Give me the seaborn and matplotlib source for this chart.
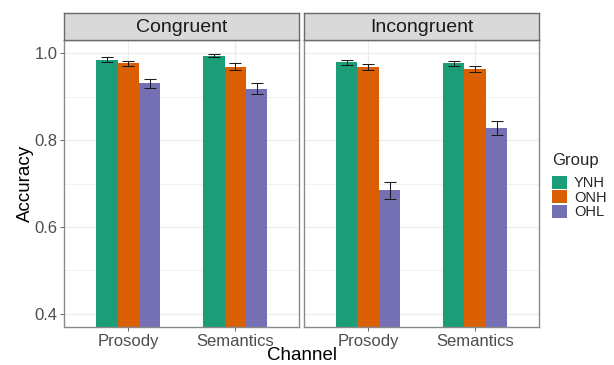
import matplotlib
matplotlib.use("Agg")
import matplotlib.pyplot as plt
from matplotlib.patches import Patch
import seaborn as sns
import pandas as pd

# Mean accuracy and standard error by condition, channel and group
conditions = ["Congruent", "Incongruent"]
channels = ["Prosody", "Semantics"]
groups = ["YNH", "ONH", "OHL"]

congruent_mean = {"YNH": [0.985, 0.994], "ONH": [0.976, 0.969], "OHL": [0.930, 0.918]}
congruent_se = {"YNH": [0.005, 0.003], "ONH": [0.006, 0.007], "OHL": [0.011, 0.012]}
incongruent_mean = {"YNH": [0.979, 0.976], "ONH": [0.967, 0.963], "OHL": [0.684, 0.828]}
incongruent_se = {"YNH": [0.006, 0.006], "ONH": [0.007, 0.007], "OHL": [0.019, 0.016]}

y_ticks = [0.4, 0.6, 0.8, 1.0]
y_minor = [0.5, 0.7, 0.9]

palette = {"YNH": "#1B9E77", "ONH": "#D95F02", "OHL": "#7570B3"}

sns.set_theme(style="white")
plt.rcParams["font.family"] = ["Liberation Sans", "DejaVu Sans"]

means = {"Congruent": congruent_mean, "Incongruent": incongruent_mean}
ses = {"Congruent": congruent_se, "Incongruent": incongruent_se}

fig = plt.figure(figsize=(6.14, 3.65), dpi=100)
W, H = 614, 365

panel_x = [(64.3, 299.3), (304.0, 539.3)]
panel_top, panel_bottom = 40.0, 327.0
strip_top = 13.0

border_col = "#8a8a8a"
grid_col = "#EBEBEB"
tick_col = "#4D4D4D"

for i, cond in enumerate(conditions):
    x0, x1 = panel_x[i]
    ax = fig.add_axes([x0 / W, 1 - panel_bottom / H, (x1 - x0) / W, (panel_bottom - panel_top) / H])
    rows = []
    for g in groups:
        for c, m, s in zip(channels, means[cond][g], ses[cond][g]):
            rows.append({"Channel": c, "Group": g, "Accuracy": m, "SE": s})
    df = pd.DataFrame(rows)

    ax.set_axisbelow(True)
    for v in y_minor:
        ax.axhline(v, color=grid_col, lw=0.5, zorder=0)
    for v in y_ticks:
        ax.axhline(v, color=grid_col, lw=0.9, zorder=0)
    for k in range(len(channels)):
        ax.axvline(k, color=grid_col, lw=0.9, zorder=0)

    sns.barplot(data=df, x="Channel", y="Accuracy", hue="Group", order=channels,
                hue_order=groups, palette=palette, width=0.6, errorbar=None,
                saturation=1, legend=False, ax=ax, zorder=2, linewidth=0)

    # error bars at the centre of each drawn bar
    for g, cont in zip(groups, ax.containers):
        for bar, s in zip(cont, ses[cond][g]):
            cx = bar.get_x() + bar.get_width() / 2
            ax.errorbar(cx, bar.get_height(), yerr=s, color="#1a1a1a", lw=0.75,
                        capsize=4.3, capthick=0.75, zorder=3)

    ax.set_xlim(-0.6, 1.6)
    ax.set_ylim(0.37, 1.03)
    ax.set_yticks(y_ticks)
    ax.set_xlabel("")
    ax.set_ylabel("")
    ax.tick_params(axis="both", colors=tick_col, labelcolor=tick_col, labelsize=12,
                   length=3, width=0.6, pad=2, left=True, bottom=True)
    if i == 0:
        ax.set_yticklabels([f"{v:.1f}" for v in y_ticks])
    else:
        ax.tick_params(axis="y", left=False, labelleft=False)
    for sp in ax.spines.values():
        sp.set_color(border_col)
        sp.set_linewidth(1.0)
        sp.set_visible(True)

    # facet strip
    sax = fig.add_axes([x0 / W, 1 - panel_top / H, (x1 - x0) / W, (panel_top - strip_top) / H])
    sax.set_facecolor("#D9D9D9")
    sax.set_xticks([])
    sax.set_yticks([])
    for sp in sax.spines.values():
        sp.set_color("#6a6a6a")
        sp.set_linewidth(1.0)
    sax.text(0.5, 0.45, cond, ha="center", va="center", fontsize=14, color="#1A1A1A",
             transform=sax.transAxes)

fig.text(25 / W, 1 - 183 / H, "Accuracy", rotation=90, ha="center", va="center",
         fontsize=13.5, color="black")
fig.text(302 / W, 1 - 360.5 / H, "Channel", ha="center", va="baseline",
         fontsize=13.5, color="black")

handles = [Patch(facecolor=palette[g], edgecolor="none", label=g) for g in groups]
leg = fig.legend(handles=handles, title="Group", loc="center left",
                 bbox_to_anchor=(552 / W, 1 - 186 / H), frameon=False, fontsize=10.5,
                 title_fontsize=12, handlelength=1.0, handleheight=1.0,
                 labelspacing=0.0, handletextpad=0.5, borderpad=0, borderaxespad=0)
leg._legend_box.align = "left"
leg._legend_box.sep = 6

fig.savefig("out.png", dpi=100)
